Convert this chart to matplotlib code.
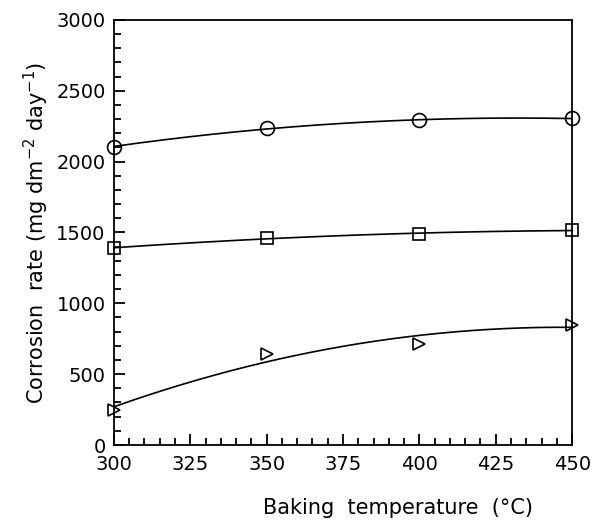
import matplotlib.pyplot as plt
import numpy as np

temps = [300, 350, 400, 450]
circle_rate = [2105, 2235, 2290, 2305]
square_rate = [1390, 1460, 1490, 1515]
triangle_rate = [250, 645, 715, 850]

fig = plt.figure(figsize=(5.96, 5.22), dpi=100)
ax = fig.add_axes([0.191, 0.1475, 0.769, 0.8145])

xs = np.linspace(300, 450, 200)
for ys, mk, ms in [(circle_rate, 'o', 10), (square_rate, 's', 8), (triangle_rate, '>', 9)]:
    # smooth fitted curve through the points
    c = np.polyfit(temps, ys, 2)
    ax.plot(xs, np.polyval(c, xs), color='black', linewidth=1.2, clip_on=False)
    ax.plot(temps, ys, linestyle='none', marker=mk, markersize=ms,
            markerfacecolor='none', markeredgecolor='black', markeredgewidth=1.2,
            clip_on=False)

ax.set_xlim(300, 450)
ax.set_ylim(0, 3000)
ax.set_xticks(np.arange(300, 451, 25))
ax.set_xticks(np.arange(300, 451, 5), minor=True)
ax.set_yticks(np.arange(0, 3001, 500))
ax.set_yticks(np.arange(0, 3001, 100), minor=True)
ax.tick_params(which='both', direction='in', top=False, right=False, labelsize=14, width=1.3)
ax.tick_params(which='major', length=8)
ax.tick_params(which='minor', length=5)
ax.tick_params(axis='y', pad=6)
ax.tick_params(axis='x', pad=7)
for s in ax.spines.values():
    s.set_linewidth(1.3)

ax.set_xlabel('Baking  temperature  (°C)', fontsize=15)
ax.xaxis.set_label_coords(0.62, -0.125)
ax.set_ylabel('Corrosion  rate (mg dm$^{-2}$ day$^{-1}$)', fontsize=15, labelpad=4)

fig.savefig('out.png', dpi=100)
